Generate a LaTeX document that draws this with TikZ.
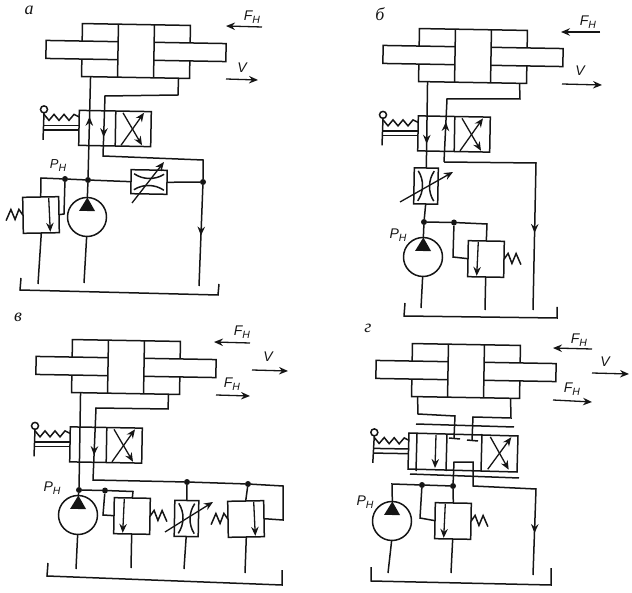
\documentclass[tikz,border=0pt]{standalone}
\usepackage{fontspec}
\usepackage{xcolor}
\usetikzlibrary{arrows.meta, decorations.markings}
\setmainfont{Liberation Sans}
\newfontfamily\panelfont{Liberation Serif}
\definecolor{SchemeInk}{HTML}{151515}
\newcommand{\subH}[1]{\itshape #1\raisebox{-3pt}{\fontsize{10.5}{10.5}\selectfont Н}}

\tikzset{
  flowtip/.tip={Stealth[length=9pt,width=7.5pt,inset=3pt]},
  pipe/.style={SchemeInk, line width=1.5pt, line join=miter},
  flowat/.style={postaction={decorate, decoration={markings, mark=at position #1 with {\arrow{flowtip}}}}},
  adjust/.style={SchemeInk, line width=1.3pt, -{flowtip}},
  junction/.style={circle, fill=SchemeInk, inner sep=0pt, minimum size=6pt},
  forcelbl/.style={SchemeInk, inner sep=0pt, font=\fontsize{14}{14}\selectfont},
  panellbl/.style={SchemeInk, inner sep=0pt, font=\panelfont\itshape\fontsize{18}{18}\selectfont},
  skew/.style={rotate=-1},
  % Double rod cylinder, origin at the middle of the barrel
  cylinder/.pic={
    \draw[pipe] (-54,-9) -- (-54,-26.5) -- (54,-26.5) -- (54,-9);
    \draw[pipe] (-54,9) -- (-54,26.5) -- (54,26.5) -- (54,9);
    \draw[pipe] (-18,-26.5) -- (-18,26.5) (18,-26.5) -- (18,26.5);
    \draw[pipe] (-18,-9) -- (-90,-9) -- (-90,9) -- (-18,9);
    \draw[pipe] (18,-9) -- (90,-9) -- (90,9) -- (18,9);
    \coordinate (-portL) at (-45,26.5);
    \coordinate (-portR) at (43,26.5);
  },
  % Spring and lever, origin on the left wall of the valve
  handle/.pic={
    \draw[pipe] (-35,-18.5) circle (3.5);
    \draw[pipe] (-35,-15) -- (-36,12);
    \draw[pipe] (-35,-2.5) -- (0,-2.5) (-35,2.2) -- (0,2.2);
    \draw[pipe] (-35,-13.5) -- (-30,-7.5) -- (-25,-13.5) -- (-20,-7.5) -- (-15,-13.5) -- (-10,-7.5) -- (-5,-13.5) -- (0,-11);
  },
  % Crossed arrows of a valve cell, origin at the middle of the cell
  crossing/.pic={
    \draw[adjust] (-12,16.5) -- (11,-16);
    \draw[adjust] (-10,-16) -- (9,16.5);
  },
  % Two position valve, origin at the middle of the box
  valvebox/.pic={
    \draw[pipe] (-36,-17.5) rectangle (36,17.5);
    \draw[pipe] (0.5,-17.5) -- (0.5,17.5);
    \pic at (-36,0) {handle};
    \pic at (18,0) {crossing};
  },
  % Relief valve, origin at the middle of the box
  relief/.pic={
    \draw[pipe] (-18,-18) rectangle (18,18);
    \draw[adjust] (-8,-17) -- (-9,17);
    \draw[pipe] (18,0) -- (22,-6) -- (26,4) -- (30,-6) -- (35,5);
    \coordinate (-top) at (0,-18);
    \coordinate (-bot) at (0,18);
    \coordinate (-pilot) at (-18,0);
  },
  % Throttle, origin at the middle of the box
  throttle/.pic={
    \draw[pipe] (-12,-18) rectangle (12,18);
    \draw[pipe] (-8,-15) .. controls (-2,-6) and (-2,6) .. (-8,15);
    \draw[pipe] (8,-15) .. controls (2,-6) and (2,6) .. (8,15);
    \coordinate (-in) at (0,-18);
    \coordinate (-out) at (0,18);
  },
  % Pump, origin at the middle of the circle
  pump/.pic={
    \draw[pipe] (0,0) circle (19.5);
    \fill[SchemeInk] (0,-19.5) -- (-8,-6) -- (8,-6) -- cycle;
    \coordinate (-top) at (0,-19.5);
    \coordinate (-bot) at (0,19.5);
  }
}

\begin{document}
\begin{tikzpicture}[x=1pt, y=-1pt]
  \useasboundingbox (0,0) rectangle (632,593);

  % Panel a
  \node[panellbl] (aTitle) at (29,10) {а};
  \pic[skew] (aCyl) at (136,51) {cylinder};
  \pic[skew] at (115,128.5) {valvebox};
  \pic[skew] (aPump) at (87,217) {pump};
  \pic[xscale=-1,skew] (aRelief) at (41,215) {relief};
  \pic[rotate=89] (aThrot) at (149,182) {throttle};
  \node[junction] (aJ1) at (65,179) {};
  \node[junction] (aJ2) at (88,180) {};
  \node[junction] (aJ3) at (203,182) {};
  \coordinate (aEnd1) at (84,283);
  \coordinate (aEnd2) at (38,284);
  \coordinate (aEnd3) at (199,286);
  \draw[pipe] (aRelief-top) -- (41,178) -- (aJ1) -- (aJ2) -- (aThrot-in);
  \draw[pipe] (aThrot-out) -- (aJ3);
  \draw[pipe] (aJ1) -- (64,214) -- (aRelief-pilot);
  \draw[pipe] (aPump-top) -- (aJ2);
  \draw[pipe, flowat=0.6] (aJ2) -- (aCyl-portL);
  \draw[pipe, flowat=131pt] (aCyl-portR) -- (178,95) -- (105,96) -- (103,156) -- (203,160) -- (aJ3);
  \draw[pipe, flowat=0.5] (aJ3) -- (aEnd3);
  \draw[pipe] (aPump-bot) -- (aEnd1);
  \draw[pipe] (aRelief-bot) -- (aEnd2);
  \draw[pipe] (21,278) -- (20,290) -- (218,295) -- (219,284);
  \draw[adjust] (132,203) -- (164,162);
  \node[forcelbl] (aForce) at (252,17) {\subH{F}};
  \draw[adjust] (262,27) -- (226,26);
  \node[forcelbl] (aSpeed) at (242,68) {\itshape V};
  \draw[adjust] (226,79) -- (258,80);
  \node[forcelbl, font=\fontsize{13}{13}\selectfont] (aPress) at (58,166) {\subH{P}};

  % Panel b
  \node[panellbl] (bTitle) at (380,14) {б};
  \pic[skew] (bCyl) at (473,56) {cylinder};
  \pic[skew] at (454,134) {valvebox};
  \pic[skew] (bThrot) at (426,186) {throttle};
  \pic[skew] (bPump) at (423,257) {pump};
  \pic[skew] (bRelief) at (486,259) {relief};
  \node[junction] (bJ1) at (424,222) {};
  \node[junction] (bJ2) at (454,222.5) {};
  \coordinate (bEnd1) at (421,308);
  \coordinate (bEnd2) at (485,310);
  \coordinate (bEnd3) at (533,310);
  \coordinate (bBend) at (444,162);
  \draw[pipe, flowat=0.72] (bCyl-portL) -- (bThrot-in);
  \draw[pipe] (bThrot-out) -- (bJ1) -- (bPump-top);
  \draw[pipe] (bJ1) -- (bJ2) -- (487,224) -- (bRelief-top);
  \draw[pipe] (bJ2) -- (453,257) -- (bRelief-pilot);
  \draw[pipe, flowat=40pt] (bBend) -- (447,99) -- (520,99) -- ([xshift=4pt]bCyl-portR);
  \draw[pipe, flowat=162pt] (bBend) -- (536,163) -- (bEnd3);
  \draw[pipe] (bPump-bot) -- (bEnd1);
  \draw[pipe] (bRelief-bot) -- (bEnd2);
  \draw[pipe] (405,303) -- (404,316) -- (557,318) -- (557,307);
  \draw[adjust] (400,202) -- (453,172);
  \node[forcelbl] (bForce) at (588,22) {\subH{F}};
  \draw[adjust] (600,32) -- (561,32);
  \node[forcelbl] (bSpeed) at (580,71) {\itshape V};
  \draw[adjust] (562,84) -- (602,85);
  \node[forcelbl] (bPress) at (398,235) {\subH{P}};

  % Panel v
  \node[panellbl] (vTitle) at (18,317) {в};
  \pic[skew] (vCyl) at (126,367) {cylinder};
  \pic[skew] at (106,445) {valvebox};
  \pic[skew] (vPump) at (78,515) {pump};
  \pic[skew] (vRelA) at (132,516) {relief};
  \pic[skew] (vThrot) at (186.5,518.5) {throttle};
  \pic[xscale=-1,skew] (vRelB) at (246,519) {relief};
  \node[junction] (vJ1) at (79,490) {};
  \node[junction] (vJ2) at (105,490.5) {};
  \node[junction] (vJ3) at (187,482) {};
  \node[junction] (vJ4) at (248,484) {};
  \coordinate (vEnd1) at (76,569);
  \coordinate (vEnd2) at (131,568);
  \coordinate (vEnd3) at (184,569);
  \coordinate (vEnd4) at (245,573);
  \draw[pipe] (vCyl-portL) -- (vJ1) -- (vPump-top);
  \draw[pipe] (vJ1) -- (vJ2) -- (133,491.5) -- (vRelA-top);
  \draw[pipe] (vJ2) -- (103,515) -- (vRelA-pilot);
  \draw[pipe, flowat=134pt] (vCyl-portR) -- (168,409) -- (96,408) -- (93,480) -- (vJ3);
  \draw[pipe] (vJ3) -- (vJ4) -- (283,486) -- (283,520) -- (vRelB-pilot);
  \draw[pipe] (vJ3) -- (vThrot-in);
  \draw[pipe] (vJ4) -- (vRelB-top);
  \draw[pipe] (vPump-bot) -- (vEnd1);
  \draw[pipe] (vRelA-bot) -- (vEnd2);
  \draw[pipe] (vThrot-out) -- (vEnd3);
  \draw[pipe] (vRelB-bot) -- (vEnd4);
  \draw[pipe] (48,563) -- (47,576) -- (282,585) -- (282,570);
  \draw[adjust] (165,532) -- (213,502);
  \node[forcelbl] (vForceA) at (242,332) {\subH{F}};
  \draw[adjust] (250,343) -- (214,342);
  \node[forcelbl] (vSpeed) at (268,357) {\itshape V};
  \draw[adjust] (252,370) -- (288,371);
  \node[forcelbl] (vForceB) at (232,384) {\subH{F}};
  \draw[adjust] (216,395) -- (250,396);
  \node[forcelbl] (vPress) at (52,488) {\subH{P}};

  % Panel g
  \node[panellbl] (gTitle) at (368,328) {г};
  \pic[skew] (gCyl) at (466,371) {cylinder};
  \pic[skew] at (409,451.5) {handle};
  \pic[skew] at (500,453) {crossing};
  \pic[skew] (gPump) at (392,521) {pump};
  \pic[skew] (gRelief) at (453,521) {relief};
  \node[junction] (gJ1) at (422,485) {};
  \node[junction] (gJ2) at (453,486) {};
  \coordinate (gEnd1) at (388,573);
  \coordinate (gEnd2) at (451,573);
  \coordinate (gEnd3) at (533,575);
  \coordinate (gStopL) at (454,438);
  \coordinate (gStopR) at (472,440);
  % Three position valve
  \draw[pipe] (409,433) -- (518,436) -- (517,472) -- (408,469) -- cycle;
  \foreach \xd in {417,447,482} {
    \draw[pipe] (\xd,434) -- ({\xd-1},471);
  }
  \draw[pipe] (416,424) -- (514,427) (410,474) -- (519,478);
  \draw[adjust] (436,435) -- (435,468);
  % Pipes
  \draw[pipe] ([xshift=-3pt]gCyl-portL) -- (418,414) -- (455,416) -- (gStopL);
  \draw[pipe] ([xshift=2pt]gCyl-portR) -- (511,418) -- (473,417) -- (gStopR);
  \draw[pipe] (449,438) -- (460,439) (467,440) -- (478,441);
  \draw[pipe] (gPump-top) -- (392,484) -- (gJ1) -- (gJ2) -- (gRelief-top);
  \draw[pipe] (gJ1) -- (420,518) -- (gRelief-pilot);
  \draw[pipe, flowat=171pt] (gJ2) -- (454,462) -- (473,462) -- (473,486) -- (536,489) -- (gEnd3);
  \draw[pipe] (gPump-bot) -- (gEnd1);
  \draw[pipe] (gRelief-bot) -- (gEnd2);
  \draw[pipe] (371,567) -- (371,581) -- (551,585) -- (551,568);
  \node[forcelbl] (gForceA) at (579,340) {\subH{F}};
  \draw[adjust] (592,349) -- (553,348);
  \node[forcelbl] (gSpeed) at (605,362) {\itshape V};
  \draw[adjust] (592,373) -- (629,374);
  \node[forcelbl] (gForceB) at (572,389) {\subH{F}};
  \draw[adjust] (553,400) -- (592,402);
  \node[forcelbl] (gPress) at (365,502) {\subH{P}};
\end{tikzpicture}
\end{document}
